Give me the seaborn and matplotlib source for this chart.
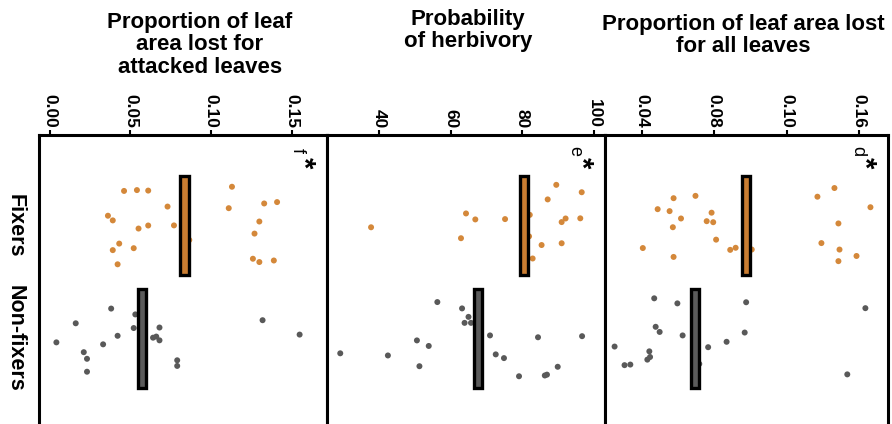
"""Herbivory on N-fixers vs non-fixers: rotated strip plots with mean bars."""

import numpy as np
import pandas as pd
import matplotlib
matplotlib.use("Agg")
import matplotlib.pyplot as plt
import seaborn as sns

# ---- data ----
groups = ["Fixers", "Non-fixers"]

# panel f: proportion of leaf area lost for attacked leaves
f_fixers = [0.046, 0.052, 0.039, 0.043, 0.042, 0.055, 0.061, 0.061, 0.073, 0.077,
            0.0865, 0.039, 0.036, 0.054, 0.111, 0.126, 0.141, 0.130, 0.139, 0.113,
            0.127, 0.130, 0.133]
f_nonfixers = [0.004, 0.023, 0.038, 0.068, 0.023, 0.021, 0.042, 0.053, 0.064, 0.052,
               0.066, 0.068, 0.079, 0.079, 0.016, 0.033, 0.132, 0.155]
f_means = [0.0836, 0.0570]

# panel e: probability of herbivory
e_fixers = [64.3, 62.9, 82.1, 91.0, 91.0, 96.2, 82.9, 87.1, 85.4, 75.2, 66.9, 81.9,
            37.8, 92.1, 89.5, 96.6]
e_nonfixers = [42.5, 50.6, 72.6, 86.3, 29.2, 56.3, 63.9, 53.9, 65.0, 79.1, 86.9, 89.9,
               96.7, 51.3, 63.2, 65.7, 71.0, 74.9, 84.4]
e_means = [80.4, 67.6]

# panel d: proportion of leaf area lost for all leaves
d_fixers = [0.0696, 0.0785, 0.0553, 0.0487, 0.0575, 0.0616, 0.0758, 0.0918, 0.1007,
            0.0571, 0.0794, 0.0405, 0.0575, 0.0810, 0.0888, 0.1486, 0.1464, 0.1586,
            0.1663, 0.1486, 0.1492, 0.1392, 0.1370]
d_nonfixers = [0.0441, 0.0596, 0.0476, 0.0717, 0.0968, 0.0249, 0.0445, 0.0336, 0.0430,
               0.0468, 0.0498, 0.0625, 0.0976, 0.0868, 0.0766, 0.0304, 0.1535, 0.1635]
d_means = [0.0976, 0.0694]

panels = [
    dict(letter="f", title="Proportion of leaf\narea lost for\nattacked leaves",
         fix=f_fixers, non=f_nonfixers, means=f_means,
         ticks=[0.00, 0.05, 0.10, 0.15], ticklabels=["0.00", "0.05", "0.10", "0.15"],
         xlim=(-0.0068, 0.172)),
    dict(letter="e", title="Probability\nof herbivory",
         fix=e_fixers, non=e_nonfixers, means=e_means,
         ticks=[40, 60, 80, 100], ticklabels=["40", "60", "80", "100"],
         xlim=(25.5, 103.1)),
    dict(letter="d", title="Proportion of leaf area lost\nfor all leaves",
         fix=d_fixers, non=d_nonfixers, means=d_means,
         ticks=[0.04, 0.08, 0.12, 0.16], ticklabels=["0.04", "0.08", "0.10", "0.16"],
         xlim=(0.0196, 0.176)),
]

point_colors = {"Fixers": "#d4883a", "Non-fixers": "#595959"}
bar_colors = ["#c97d32", "#5b5b5b"]

sns.set_theme(style="white")
plt.rcParams["font.family"] = ["Liberation Sans", "DejaVu Sans"]
plt.rcParams["text.color"] = "black"
plt.rcParams["xtick.labelcolor"] = "black"
plt.rcParams["ytick.labelcolor"] = "black"

fig = plt.figure(figsize=(8.92, 4.24), dpi=100)

W, H = 892.0, 424.0
edges = [39, 327, 605, 888]
top_px = 135
bottom_px = 432
title_pos = [(200, 45), (468, 30.5), (743, 35.5)]

np.random.seed(7)

for i, p in enumerate(panels):
    x0, x1 = edges[i], edges[i + 1]
    ax = fig.add_axes([x0 / W, 1 - bottom_px / H, (x1 - x0) / W, (bottom_px - top_px) / H])

    df = pd.DataFrame({
        "group": ["Fixers"] * len(p["fix"]) + ["Non-fixers"] * len(p["non"]),
        "value": p["fix"] + p["non"],
    })
    sns.stripplot(data=df, x="value", y="group", hue="group", order=groups,
                  palette=point_colors, jitter=0.36, size=4.3, linewidth=0,
                  legend=False, ax=ax, zorder=2)

    # mean bars
    w = 0.029 * (p["xlim"][1] - p["xlim"][0])
    ax.barh([0, 1], width=w, left=np.array(p["means"]) - w / 2, height=0.87,
            color=bar_colors, edgecolor="black", linewidth=2.4, zorder=3)

    ax.set_xlim(*p["xlim"])
    ax.set_ylim(1.828, -0.8)
    ax.set_xlabel("")
    ax.set_ylabel("")

    ax.xaxis.tick_top()
    ax.set_xticks(p["ticks"])
    ax.set_xticklabels(p["ticklabels"], rotation=-90, fontweight="bold", fontsize=12.5,
                       va="bottom", ha="center", color="black")
    ax.tick_params(axis="x", which="both", top=True, bottom=False, direction="out",
                   length=3.5, width=1.5, color="black", pad=1.5)

    ax.set_yticks([0, 1])
    if i == 0:
        ax.set_yticklabels(groups, rotation=-90, fontsize=15.5, fontweight="bold",
                           va="center", ha="center", color="black")
        ax.tick_params(axis="y", length=0, pad=17)
    else:
        ax.set_yticklabels([])
        ax.tick_params(axis="y", length=0)

    for s in ax.spines.values():
        s.set_linewidth(2.2)
        s.set_color("black")

    ax.annotate(p["letter"], xy=(1, 1), xycoords="axes fraction",
                xytext=(-21.5, -11.5), textcoords="offset points",
                rotation=-90, ha="center", va="center", fontsize=13)
    ax.annotate("*", xy=(1, 1), xycoords="axes fraction",
                xytext=(-17, -20), textcoords="offset points",
                rotation=-90, ha="center", va="center", fontsize=21, fontweight="bold")

    tx, ty = title_pos[i]
    fig.text(tx / W, 1 - ty / H, p["title"], ha="center", va="center",
             multialignment="center", fontsize=16, fontweight="bold", linespacing=1.1,
             color="black")

fig.savefig("out.png", dpi=100)
